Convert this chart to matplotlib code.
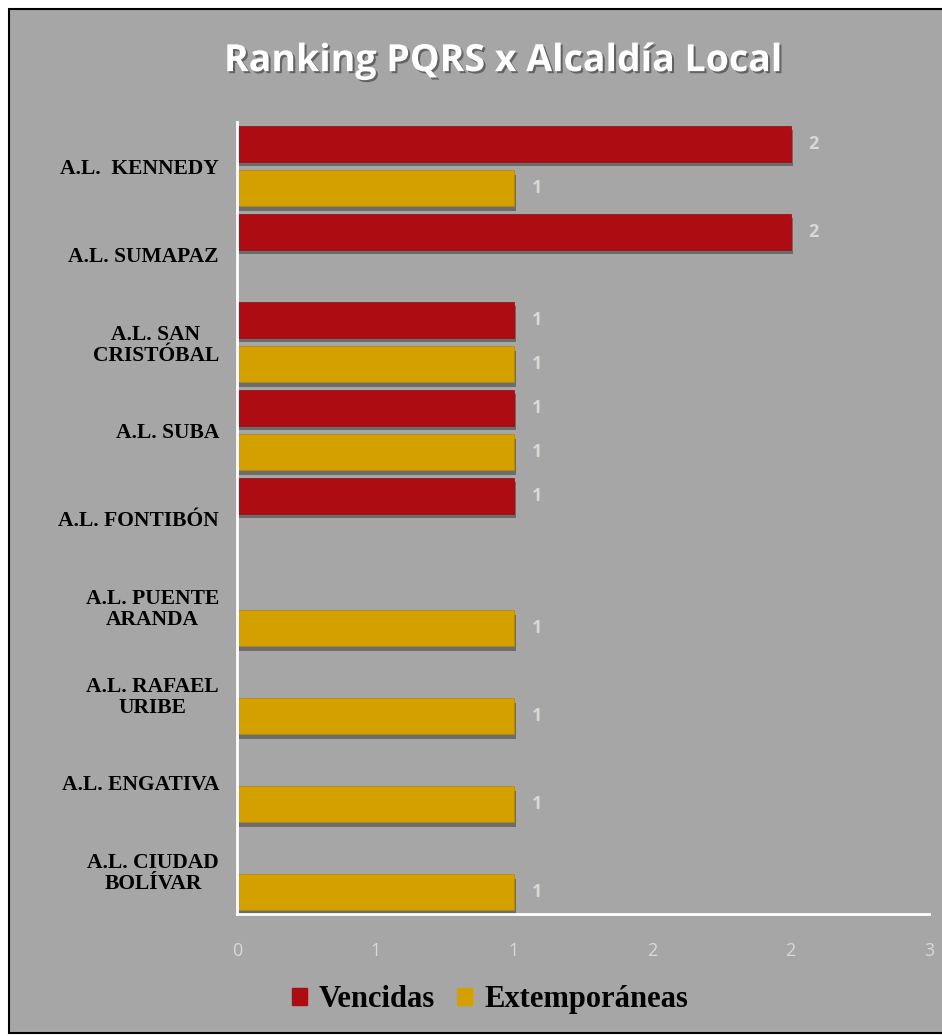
import numpy as np
import matplotlib.pyplot as plt
import matplotlib.patheffects as pe
from matplotlib.patches import Rectangle

# data
categories = ['A.L.  KENNEDY', 'A.L. SUMAPAZ', 'A.L. SAN\nCRISTÓBAL', 'A.L. SUBA',
              'A.L. FONTIBÓN', 'A.L. PUENTE\nARANDA', 'A.L. RAFAEL\nURIBE',
              'A.L. ENGATIVA', 'A.L. CIUDAD\nBOLÍVAR']
vencidas = [2, 2, 1, 1, 1, 0, 0, 0, 0]
extemporaneas = [1, 0, 1, 1, 0, 1, 1, 1, 1]
xticks = [0, 0.5, 1, 1.5, 2, 2.5]
xtick_labels = ['0', '1', '1', '2', '2', '3']

bg = '#A6A6A6'
red = '#AD0D12'
gold = '#D4A000'
light = '#D9D9D9'

fig = plt.figure(figsize=(9.42, 10.36), dpi=100)
fig.patch.set_facecolor('white')
# gray chart area with black border
fig.patches.append(Rectangle((9/942, 0.003), 1.0, 1 - 9/1036 - 0.003, transform=fig.transFigure,
                             facecolor=bg, edgecolor='black', linewidth=1.5, zorder=-10))

ax = fig.add_axes([237/942, 122/1036, (929-237)/942, (914-122)/1036])
ax.patch.set_alpha(0)

y = np.arange(len(categories))
h = 0.41
off = 0.255
shadow = [pe.SimplePatchShadow(offset=(1.5, -3), shadow_rgbFace='black', alpha=0.35), pe.Normal()]

for i in range(len(categories)):
    if vencidas[i] > 0:
        b = ax.barh(y[i] - off, vencidas[i], height=h, color=red, edgecolor='#8f0a0e', linewidth=0.5)
        b[0].set_path_effects(shadow)
        ax.text(vencidas[i] + 0.065, y[i] - off, str(vencidas[i]), color=light, va='center',
                ha='left', fontsize=13, fontweight='bold', family='Open Sans')
    if extemporaneas[i] > 0:
        b = ax.barh(y[i] + off, extemporaneas[i], height=h, color=gold, edgecolor='#b88a00', linewidth=0.5)
        b[0].set_path_effects(shadow)
        ax.text(extemporaneas[i] + 0.065, y[i] + off, str(extemporaneas[i]), color=light, va='center',
                ha='left', fontsize=13, fontweight='bold', family='Open Sans')

ax.set_ylim(len(categories) - 0.5, -0.5)
ax.set_xlim(0, 2.5)
ax.set_yticks(y)
ax.set_yticklabels(categories, fontsize=15.5, fontweight='bold', family='Liberation Serif',
                   multialignment='center', linespacing=1.12)
ax.set_xticks(xticks)
ax.set_xticklabels(xtick_labels, color=light, fontsize=13, family='Open Sans')
ax.tick_params(axis='y', length=0, pad=13)
ax.tick_params(axis='x', length=0, pad=20)
for s in ['top', 'right']:
    ax.spines[s].set_visible(False)
ax.spines['left'].set_color('white')
ax.spines['bottom'].set_color('white')
ax.spines['left'].set_linewidth(2)
ax.spines['bottom'].set_linewidth(2)

fig.text(0.534, 0.941, 'Ranking PQRS x Alcaldía Local', ha='center', va='center', color='white',
         fontsize=27, fontweight='bold', family='Open Sans',
         path_effects=[pe.withSimplePatchShadow(offset=(1.5, -1.5), shadow_rgbFace='black', alpha=0.4)])

handles = [Rectangle((0, 0), 1, 1, color=red), Rectangle((0, 0), 1, 1, color=gold)]
leg = fig.legend(handles, ['Vencidas', 'Extemporáneas'], loc='center', bbox_to_anchor=(0.52, 0.035),
                 ncol=2, frameon=False, handlelength=0.5, handleheight=0.5, columnspacing=0.7,
                 handletextpad=0.4, prop={'family': 'Liberation Serif', 'size': 22, 'weight': 'bold'})

plt.savefig('out.png', dpi=100, facecolor=fig.get_facecolor())
